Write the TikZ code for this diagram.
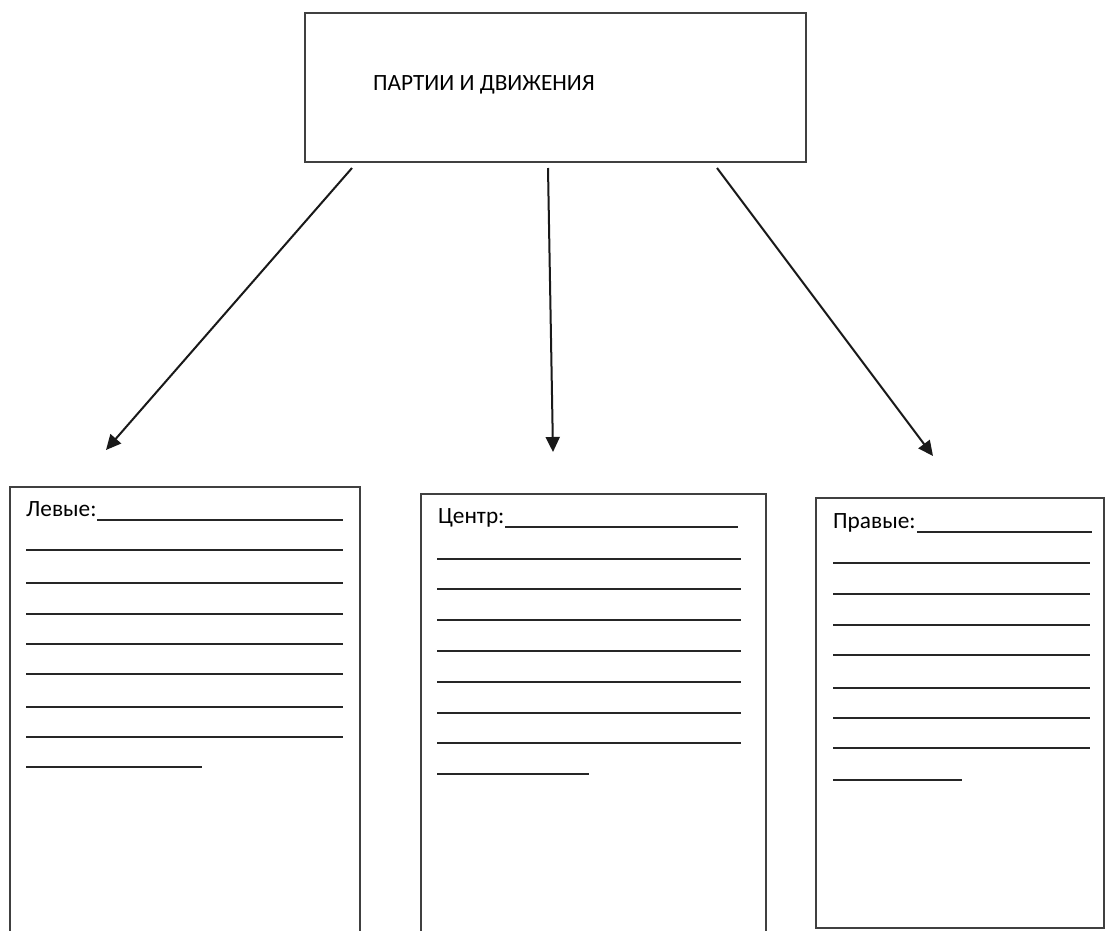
\documentclass[tikz,border=0pt]{standalone}
\usepackage{fontspec}
\setmainfont{Carlito}
\usetikzlibrary{arrows.meta}
\tikzset{
  box/.style={draw=black!75, line width=1.6pt, fill=white},
  lbl/.style={anchor=base west, inner sep=0pt, font=\fontsize{23.3}{27}\selectfont, text=black},
  wline/.style={line width=1.7pt, black!85},
  arr/.style={line width=2pt, black!90, -{Triangle[length=15pt,width=14pt]}}
}
\begin{document}
\begin{tikzpicture}[x=1pt,y=-1pt]
\useasboundingbox (0,0) rectangle (1106,930);
\clip (0,0) rectangle (1106,930);
\fill[white] (0,0) rectangle (1106,930);
% top box
\draw[box] (305,13) rectangle (806,162);
\node[lbl] (title) at (373,90) {ПАРТИИ И ДВИЖЕНИЯ};
% lower boxes
\draw[box] (10,487) rectangle (360,960);
\draw[box] (421,494) rectangle (766,960);
\draw[box] (816,498) rectangle (1104,928);
% arrows
\coordinate (s1) at (352,168); \coordinate (e1) at (106,450);
\coordinate (s2) at (548,168); \coordinate (e2) at (553,452);
\coordinate (s3) at (717,168); \coordinate (e3) at (933,456);
\draw[arr] (s1) -- (e1);
\draw[arr] (s2) -- (e2);
\draw[arr] (s3) -- (e3);
% left box text
\node[lbl] (left) at (26,516) {Левые:};
\draw[wline] (97,520) -- (343,520);
\foreach \y in {550,583,614,644,674,707,737} \draw[wline] (26,\y) -- (343,\y);
\draw[wline] (26,767) -- (202,767);
% middle box text
\node[lbl] (center) at (438,523) {Центр:};
\draw[wline] (505,527) -- (738,527);
\foreach \y in {559,589,620,651,682,713,743} \draw[wline] (437,\y) -- (741,\y);
\draw[wline] (437,774) -- (589,774);
% right box text
\node[lbl] (right) at (833,528) {Правые:};
\draw[wline] (917,532) -- (1092,532);
\foreach \y in {563,594,625,655,688,718,748} \draw[wline] (833,\y) -- (1090,\y);
\draw[wline] (833,780) -- (962,780);
\end{tikzpicture}
\end{document}
